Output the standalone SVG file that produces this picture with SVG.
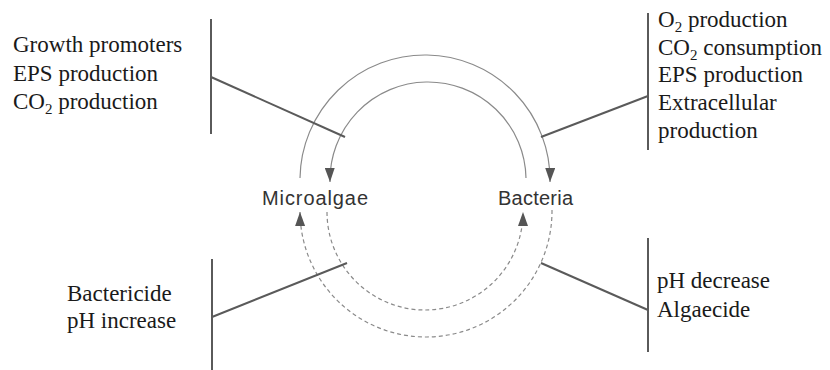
<svg xmlns="http://www.w3.org/2000/svg" width="830" height="370" viewBox="0 0 830 370">
<style>
.lbl{font-family:"Liberation Serif","Times New Roman",serif;font-size:23px;fill:#1a1a1a}
.sub{font-size:15px}
.node{font-family:"Liberation Sans",Arial,sans-serif;font-size:20px;fill:#333}
.bracket{stroke:#5a5a5a;stroke-width:2;fill:none}
.lead{stroke:#5a5a5a;stroke-width:2;fill:none}
.arc{stroke:#8a8a8a;stroke-width:1.2;fill:none}
.dash{stroke-dasharray:4 3}
</style>
<defs>
<marker id="ah" viewBox="0 0 14 10" refX="14" refY="5" markerWidth="14" markerHeight="10" markerUnits="userSpaceOnUse" orient="auto">
<path d="M0,0 L14,5 L0,10 z" fill="#555"/>
</marker>
</defs>
<rect width="830" height="370" fill="#fff"/>
<g id="connectors">
<path class="arc" d="M300,178 A125,125 0 0 1 550,182" marker-end="url(#ah)"/>
<path class="arc" d="M526,178 A98,98 0 0 0 330,182" marker-end="url(#ah)"/>
<path class="arc dash" d="M552,210 A126,126 0 0 1 300,212" marker-end="url(#ah)"/>
<path class="arc dash" d="M327,212 A98,98 0 0 0 523,212" marker-end="url(#ah)"/>
<line class="lead" x1="211" y1="77" x2="345" y2="137"/>
<line class="lead" x1="541" y1="137" x2="648" y2="96"/>
<line class="lead" x1="347" y1="263" x2="212" y2="317"/>
<line class="lead" x1="541" y1="263" x2="648" y2="310"/>
</g>
<g id="microalgae">
<text class="node" x="315" y="205" text-anchor="middle" textLength="106">Microalgae</text>
</g>
<g id="bacteria">
<text class="node" x="535.5" y="205" text-anchor="middle" textLength="75">Bacteria</text>
</g>
<g id="label-top-left">
<line class="bracket" x1="211" y1="19" x2="211" y2="134"/>
<text class="lbl" x="13" y="52">Growth promoters</text>
<text class="lbl" x="13" y="81">EPS production</text>
<text class="lbl" x="13" y="109">CO<tspan class="sub" dy="5">2</tspan><tspan dy="-5"> production</tspan></text>
</g>
<g id="label-top-right">
<line class="bracket" x1="648" y1="13" x2="648" y2="150"/>
<text class="lbl" x="658" y="27">O<tspan class="sub" dy="5">2</tspan><tspan dy="-5"> production</tspan></text>
<text class="lbl" x="658" y="54.5">CO<tspan class="sub" dy="5">2</tspan><tspan dy="-5"> consumption</tspan></text>
<text class="lbl" x="658" y="82">EPS production</text>
<text class="lbl" x="658" y="110">Extracellular</text>
<text class="lbl" x="658" y="137.5">production</text>
</g>
<g id="label-bottom-left">
<line class="bracket" x1="212" y1="259" x2="212" y2="370"/>
<text class="lbl" x="67" y="300.5">Bactericide</text>
<text class="lbl" x="67" y="328">pH increase</text>
</g>
<g id="label-bottom-right">
<line class="bracket" x1="648" y1="238" x2="648" y2="352"/>
<text class="lbl" x="657" y="288">pH decrease</text>
<text class="lbl" x="657" y="317">Algaecide</text>
</g>
</svg>
